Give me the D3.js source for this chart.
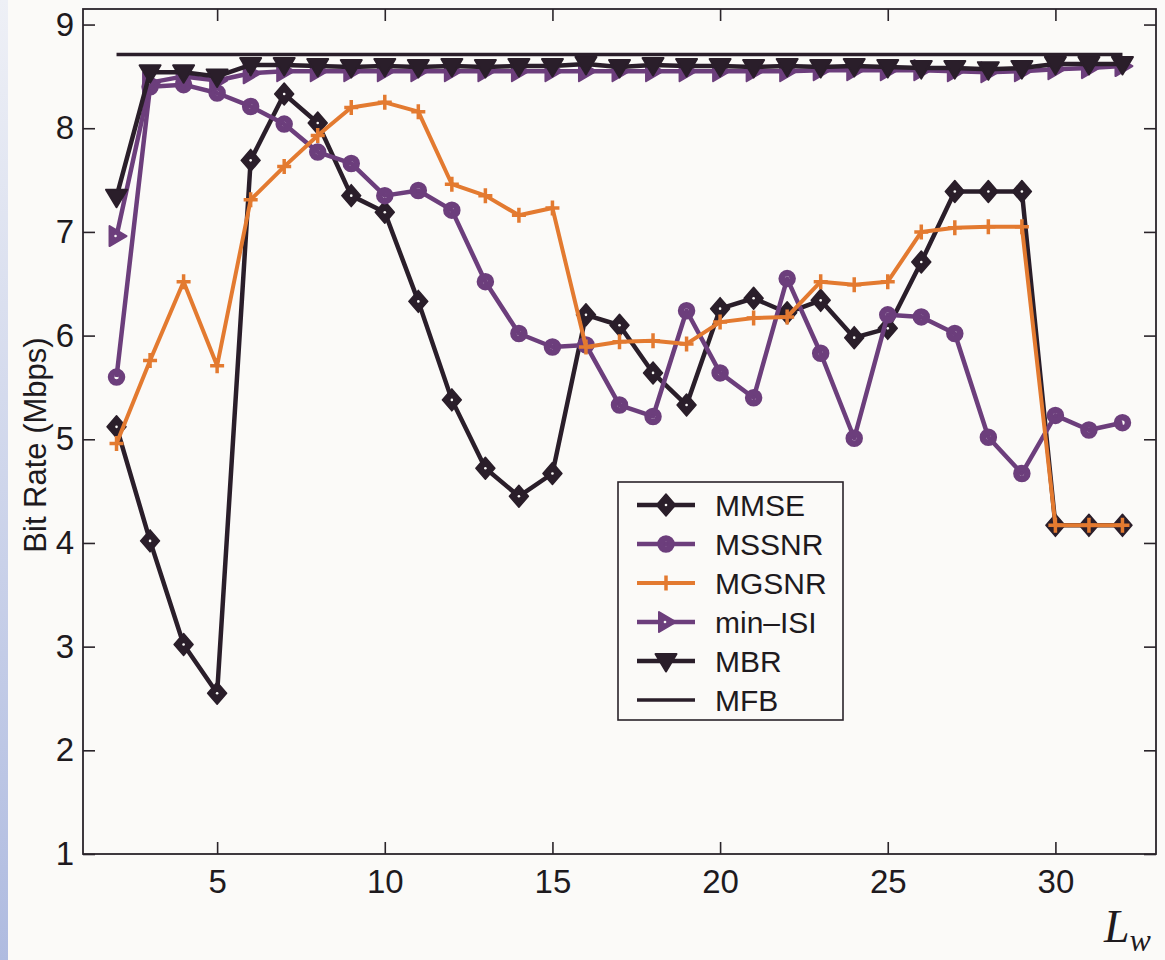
<!DOCTYPE html>
<html>
<head>
<meta charset="utf-8">
<script src="https://cdn.jsdelivr.net/npm/d3@7"></script>
<style>
  html, body { margin: 0; padding: 0; background: #fbfaf8; }
  svg { display: block; }
</style>
</head>
<body>
<svg id="chart" width="1165" height="960"></svg>
<script>
// Equalizer length L_w
const lw = [2, 3, 4, 5, 6, 7, 8, 9, 10, 11, 12, 13, 14, 15, 16, 17,
            18, 19, 20, 21, 22, 23, 24, 25, 26, 27, 28, 29, 30, 31, 32];

// Achievable bit rate (Mbps) per design method
const mmse  = [5.12, 4.02, 3.02, 2.55, 7.69, 8.33, 8.05, 7.35, 7.19, 6.33, 5.38, 4.72, 4.45, 4.67, 6.20, 6.10,
               5.64, 5.33, 6.26, 6.36, 6.22, 6.34, 5.98, 6.07, 6.71, 7.39, 7.39, 7.39, 4.17, 4.17, 4.17];
const mssnr = [5.60, 8.40, 8.42, 8.34, 8.21, 8.04, 7.77, 7.66, 7.35, 7.40, 7.21, 6.52, 6.02, 5.89, 5.91, 5.33,
               5.22, 6.24, 5.64, 5.40, 6.55, 5.83, 5.01, 6.20, 6.18, 6.02, 5.02, 4.67, 5.23, 5.09, 5.16];
const mgsnr = [4.96, 5.76, 6.52, 5.71, 7.31, 7.63, 7.93, 8.20, 8.25, 8.16, 7.46, 7.35, 7.16, 7.23, 5.89, 5.94,
               5.95, 5.92, 6.13, 6.17, 6.18, 6.52, 6.49, 6.52, 7.00, 7.04, 7.05, 7.05, 4.17, 4.17, 4.17];
const minIsi = [6.96, 8.44, 8.50, 8.46, 8.53, 8.55, 8.55, 8.55, 8.55, 8.55, 8.55, 8.55, 8.55, 8.55, 8.55, 8.55,
                8.55, 8.55, 8.55, 8.55, 8.55, 8.56, 8.56, 8.56, 8.56, 8.55, 8.54, 8.55, 8.57, 8.58, 8.60];
const mbr   = [7.34, 8.54, 8.54, 8.50, 8.61, 8.61, 8.60, 8.59, 8.60, 8.59, 8.60, 8.59, 8.60, 8.60, 8.62, 8.59,
               8.61, 8.60, 8.60, 8.59, 8.60, 8.59, 8.60, 8.59, 8.58, 8.58, 8.57, 8.58, 8.62, 8.62, 8.62];
const mfb   = [8.71, 8.71, 8.71, 8.71, 8.71, 8.71, 8.71, 8.71, 8.71, 8.71, 8.71, 8.71, 8.71, 8.71, 8.71, 8.71,
               8.71, 8.71, 8.71, 8.71, 8.71, 8.71, 8.71, 8.71, 8.71, 8.71, 8.71, 8.71, 8.71, 8.71, 8.71];

const xTicks = [5, 10, 15, 20, 25, 30];
const yTicks = [1, 2, 3, 4, 5, 6, 7, 8, 9];
const seriesNames = ["MMSE", "MSSNR", "MGSNR", "min\u2013ISI", "MBR", "MFB"];

const BLACK = "#2a1e2a", PURPLE = "#6c3e7c", ORANGE = "#e37a30", AXIS = "#2a242a";

const series = [
  { name: seriesNames[0], values: mmse,   color: BLACK,  width: 4.5, marker: "diamond" },
  { name: seriesNames[1], values: mssnr,  color: PURPLE, width: 4.5, marker: "circle" },
  { name: seriesNames[2], values: mgsnr,  color: ORANGE, width: 4,   marker: "plus" },
  { name: seriesNames[3], values: minIsi, color: PURPLE, width: 4.5, marker: "tright" },
  { name: seriesNames[4], values: mbr,    color: BLACK,  width: 4.5, marker: "tdown" },
  { name: seriesNames[5], values: mfb,    color: BLACK,  width: 3.5, marker: null }
];

const svg = d3.select("#chart");
const W = 1165, H = 960;
const L = 83, R = 1156, T = 9, B = 854;

// page background with a bluish strip on the left edge
const defs = svg.append("defs");
const grad = defs.append("linearGradient").attr("id", "edge").attr("x1", 0).attr("y1", 0).attr("x2", 0).attr("y2", 1);
grad.append("stop").attr("offset", "0%").attr("stop-color", "#eef0f6");
grad.append("stop").attr("offset", "100%").attr("stop-color", "#afbbe0");
svg.append("rect").attr("width", W).attr("height", H).attr("fill", "#fbfaf8");
svg.append("rect").attr("width", 8).attr("height", H).attr("fill", "url(#edge)");

const x = d3.scaleLinear().domain([1, 33]).range([L, R]);
const y = d3.scaleLinear().domain([1, 9.15]).range([B, T]);

const fontAx = "'Liberation Sans', Arial, Helvetica, sans-serif";

// axes with inward ticks on all four sides
const axB = d3.axisBottom(x).tickValues(xTicks).tickSize(-12).tickPadding(16).tickFormat(d3.format("d"));
const axT = d3.axisTop(x).tickValues(xTicks).tickSize(-12).tickFormat("");
const axLft = d3.axisLeft(y).tickValues(yTicks).tickSize(-12).tickPadding(9).tickFormat(d3.format("d"));
const axRgt = d3.axisRight(y).tickValues(yTicks).tickSize(-12).tickFormat("");

function styleAxis(g) {
  g.select(".domain").remove();
  g.selectAll(".tick line").attr("stroke", AXIS).attr("stroke-width", 1.6);
  g.selectAll(".tick text").attr("fill", "#1e1a1e").style("font-family", fontAx).style("font-size", "33px");
}
svg.append("g").attr("transform", `translate(0,${B})`).call(axB).call(styleAxis);
svg.append("g").attr("transform", `translate(0,${T})`).call(axT).call(styleAxis);
svg.append("g").attr("transform", `translate(${L},0)`).call(axLft).call(styleAxis);
svg.append("g").attr("transform", `translate(${R},0)`).call(axRgt).call(styleAxis);

svg.append("rect").attr("x", L).attr("y", T).attr("width", R - L).attr("height", B - T)
  .attr("fill", "none").attr("stroke", AXIS).attr("stroke-width", 1.8);

// markers
function drawMarker(g, type, color, cx, cy) {
  if (type === "diamond") {
    g.append("path").attr("d", `M${cx},${cy - 11}L${cx + 9.5},${cy}L${cx},${cy + 11}L${cx - 9.5},${cy}Z`)
      .attr("fill", color).attr("stroke", color).attr("stroke-width", 1.5).attr("stroke-linejoin", "round");
    g.append("circle").attr("cx", cx).attr("cy", cy).attr("r", 1.3).attr("fill", "#fbfaf8");
  } else if (type === "circle") {
    g.append("circle").attr("cx", cx).attr("cy", cy).attr("r", 5.5)
      .attr("fill", "none").attr("stroke", color).attr("stroke-width", 6.5);
  } else if (type === "plus") {
    g.append("path").attr("d", `M${cx - 7},${cy}H${cx + 7}M${cx},${cy - 7.5}V${cy + 7.5}`)
      .attr("stroke", color).attr("stroke-width", 3.5).attr("fill", "none");
  } else if (type === "tdown") {
    g.append("path").attr("d", `M${cx - 10.5},${cy - 7}L${cx + 10.5},${cy - 7}L${cx},${cy + 10.5}Z`)
      .attr("fill", color).attr("stroke", color).attr("stroke-width", 2).attr("stroke-linejoin", "round");
  } else if (type === "tright") {
    g.append("path").attr("d", `M${cx - 7},${cy - 10}L${cx + 10},${cy}L${cx - 7},${cy + 10}Z`)
      .attr("fill", color).attr("stroke", color).attr("stroke-width", 2).attr("stroke-linejoin", "round");
    g.append("circle").attr("cx", cx - 1).attr("cy", cy).attr("r", 1.3).attr("fill", "#fbfaf8");
  }
}

const line = d3.line().x(d => x(d[0])).y(d => y(d[1]));
const plot = svg.append("g");
series.forEach(s => {
  const pts = lw.map((v, i) => [v, s.values[i]]);
  const g = plot.append("g");
  g.append("path").attr("d", line(pts)).attr("fill", "none")
    .attr("stroke", s.color).attr("stroke-width", s.width).attr("stroke-linejoin", "round");
  if (s.marker) pts.forEach(p => drawMarker(g, s.marker, s.color, x(p[0]), y(p[1])));
});

// legend
const lg = svg.append("g");
lg.append("rect").attr("x", 618).attr("y", 482).attr("width", 225).attr("height", 238)
  .attr("fill", "#fbfaf8").attr("stroke", AXIS).attr("stroke-width", 1.6);
series.forEach((s, i) => {
  const yy = 505 + i * 39;
  lg.append("line").attr("x1", 637).attr("x2", 695).attr("y1", yy).attr("y2", yy)
    .attr("stroke", s.color).attr("stroke-width", s.width);
  if (s.marker) drawMarker(lg, s.marker, s.color, 666, yy);
  lg.append("text").attr("x", 715).attr("y", yy + 11).text(s.name)
    .attr("fill", "#1e1a1e").style("font-family", fontAx).style("font-size", "30px");
});

// axis titles
svg.append("text").attr("transform", `translate(46,445) rotate(-90)`).attr("text-anchor", "middle")
  .text("Bit Rate (Mbps)").attr("fill", "#1e1a1e").style("font-family", fontAx).style("font-size", "31px");

const xl = svg.append("text").attr("x", 1104).attr("y", 942)
  .style("font-family", "'Liberation Serif', 'Times New Roman', serif").style("font-style", "italic")
  .attr("fill", "#1e1a1e");
xl.append("tspan").text("L").style("font-size", "46px");
xl.append("tspan").text("w").attr("dy", 9).style("font-size", "32px");
</script>
</body>
</html>
